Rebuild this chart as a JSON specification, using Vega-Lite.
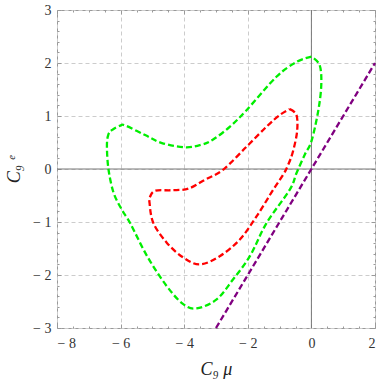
{
  "$schema": "https://vega.github.io/schema/vega-lite/v6.json",
  "width": 318,
  "height": 318,
  "autosize": "none",
  "padding": {"left": 57, "top": 10, "right": 7, "bottom": 57},
  "background": "white",
  "config": {
    "view": {"stroke": "#999", "strokeWidth": 1},
    "axis": {
      "domain": false,
      "labelFont": "Liberation Serif",
      "labelFontSize": 14,
      "labelColor": "#333",
      "tickColor": "#999",
      "titleFont": "Liberation Serif",
      "titleFontStyle": "italic",
      "titleFontWeight": "normal",
      "titleFontSize": 18,
      "titleColor": "#222"
    }
  },
  "datasets": {
    "green": [
      {"i": 0, "x": 0, "y": 2.12}, {"i": 1, "x": -0.47, "y": 2.02}, {"i": 2, "x": -1.1, "y": 1.74},
      {"i": 3, "x": -2.04, "y": 1.11}, {"i": 4, "x": -2.56, "y": 0.8}, {"i": 5, "x": -3.08, "y": 0.56},
      {"i": 6, "x": -3.45, "y": 0.46}, {"i": 7, "x": -3.97, "y": 0.41}, {"i": 8, "x": -4.7, "y": 0.49},
      {"i": 9, "x": -5.23, "y": 0.64}, {"i": 10, "x": -5.85, "y": 0.82}, {"i": 11, "x": -6.01, "y": 0.82},
      {"i": 12, "x": -6.26, "y": 0.74}, {"i": 13, "x": -6.39, "y": 0.64}, {"i": 14, "x": -6.43, "y": 0.42},
      {"i": 15, "x": -6.38, "y": -0.01}, {"i": 16, "x": -6.22, "y": -0.45}, {"i": 17, "x": -5.96, "y": -0.77},
      {"i": 18, "x": -5.7, "y": -1.02}, {"i": 19, "x": -5.17, "y": -1.64}, {"i": 20, "x": -4.55, "y": -2.21},
      {"i": 21, "x": -4.03, "y": -2.55}, {"i": 22, "x": -3.61, "y": -2.63}, {"i": 23, "x": -2.98, "y": -2.46},
      {"i": 24, "x": -2.46, "y": -2.08}, {"i": 25, "x": -1.93, "y": -1.64}, {"i": 26, "x": -1.41, "y": -1.02},
      {"i": 27, "x": -0.68, "y": -0.39}, {"i": 28, "x": -0.47, "y": -0.08}, {"i": 29, "x": -0.21, "y": 0.27},
      {"i": 30, "x": 0, "y": 0.52}, {"i": 31, "x": 0.21, "y": 1.08}, {"i": 32, "x": 0.31, "y": 1.58},
      {"i": 33, "x": 0.26, "y": 1.96}, {"i": 34, "x": 0, "y": 2.12}
    ],
    "red": [
      {"i": 0, "x": -0.68, "y": 1.13}, {"i": 1, "x": -0.47, "y": 1.02}, {"i": 2, "x": -0.45, "y": 0.71},
      {"i": 3, "x": -0.58, "y": 0.33}, {"i": 4, "x": -0.73, "y": 0.08}, {"i": 5, "x": -0.89, "y": -0.11},
      {"i": 6, "x": -1.2, "y": -0.39}, {"i": 7, "x": -1.72, "y": -0.89}, {"i": 8, "x": -2.25, "y": -1.33},
      {"i": 9, "x": -2.87, "y": -1.64}, {"i": 10, "x": -3.5, "y": -1.8}, {"i": 11, "x": -4.03, "y": -1.67},
      {"i": 12, "x": -4.55, "y": -1.39}, {"i": 13, "x": -4.97, "y": -1.02}, {"i": 14, "x": -5.09, "y": -0.64},
      {"i": 15, "x": -5.07, "y": -0.52}, {"i": 16, "x": -4.91, "y": -0.41}, {"i": 17, "x": -4.39, "y": -0.4},
      {"i": 18, "x": -3.87, "y": -0.37}, {"i": 19, "x": -3.34, "y": -0.2}, {"i": 20, "x": -2.77, "y": -0.01},
      {"i": 21, "x": -2.04, "y": 0.42}, {"i": 22, "x": -1.41, "y": 0.8}, {"i": 23, "x": -0.99, "y": 1.02},
      {"i": 24, "x": -0.68, "y": 1.13}
    ],
    "purple": [
      {"i": 0, "x": -3, "y": -3}, {"i": 1, "x": 2, "y": 2}
    ],
    "zero": [
      {"g": "v", "x": 0, "y": -3}, {"g": "v", "x": 0, "y": 3},
      {"g": "h", "x": -8, "y": 0}, {"g": "h", "x": 2, "y": 0}
    ]
  },
  "resolve": {"axis": {"x": "independent", "y": "independent"}},
  "layer": [
    {
      "data": {"name": "zero"},
      "mark": {"type": "line", "color": "#777", "strokeWidth": 1},
      "encoding": {
        "detail": {"field": "g"},
        "x": {"field": "x", "type": "quantitative", "scale": {"domain": [-8, 2], "nice": false, "zero": false},
          "axis": {"orient": "bottom", "values": [-8, -6, -4, -2, 0, 2], "tickSize": -4, "labelPadding": 12,
            "grid": true, "gridColor": "#ccc", "gridDash": [4, 3], "gridWidth": 1,
            "labelExpr": "datum.value < 0 ? '\u2212 ' + format(-datum.value, 'd') : format(datum.value, 'd')",
            "title": "C\u2089\u00a0\u03bc", "titlePadding": 10}},
        "y": {"field": "y", "type": "quantitative", "scale": {"domain": [-3, 3], "nice": false, "zero": false},
          "axis": {"orient": "left", "values": [-3, -2, -1, 0, 1, 2, 3], "tickSize": -4, "labelPadding": 10,
            "grid": true, "gridColor": "#ccc", "gridDash": [4, 3], "gridWidth": 1,
            "labelExpr": "datum.value < 0 ? '\u2212 ' + format(-datum.value, 'd') : format(datum.value, 'd')",
            "title": "C\u2089\u00a0\u1d49", "titlePadding": 9}}
      }
    },
    {
      "data": {"name": "green"},
      "mark": {"type": "line", "color": "#00ee00", "strokeWidth": 2.3, "strokeDash": [6, 3], "interpolate": "cardinal"},
      "encoding": {
        "order": {"field": "i"},
        "x": {"field": "x", "type": "quantitative",
          "axis": {"orient": "bottom", "values": [-7.5, -7, -6.5, -5.5, -5, -4.5, -3.5, -3, -2.5, -1.5, -1, -0.5, 0.5, 1, 1.5],
            "tickSize": -2, "labels": false, "grid": false, "title": null}},
        "y": {"field": "y", "type": "quantitative",
          "axis": {"orient": "left", "values": [-2.8, -2.6, -2.4, -2.2, -1.8, -1.6, -1.4, -1.2, -0.8, -0.6, -0.4, -0.2, 0.2, 0.4, 0.6, 0.8, 1.2, 1.4, 1.6, 1.8, 2.2, 2.4, 2.6, 2.8],
            "tickSize": -2, "labels": false, "grid": false, "title": null}}
      }
    },
    {
      "data": {"name": "red"},
      "mark": {"type": "line", "color": "#ff0000", "strokeWidth": 2.3, "strokeDash": [6, 3], "interpolate": "cardinal"},
      "encoding": {
        "order": {"field": "i"},
        "x": {"field": "x", "type": "quantitative",
          "axis": {"orient": "top", "values": [-8, -6, -4, -2, 0, 2], "tickSize": -4, "labels": false, "grid": false, "title": null}},
        "y": {"field": "y", "type": "quantitative",
          "axis": {"orient": "right", "values": [-3, -2, -1, 0, 1, 2, 3], "tickSize": -4, "labels": false, "grid": false, "title": null}}
      }
    },
    {
      "data": {"name": "purple"},
      "mark": {"type": "line", "color": "#800080", "strokeWidth": 2.3, "strokeDash": [6, 3]},
      "encoding": {
        "order": {"field": "i"},
        "x": {"field": "x", "type": "quantitative",
          "axis": {"orient": "top", "values": [-7.5, -7, -6.5, -5.5, -5, -4.5, -3.5, -3, -2.5, -1.5, -1, -0.5, 0.5, 1, 1.5],
            "tickSize": -2, "labels": false, "grid": false, "title": null}},
        "y": {"field": "y", "type": "quantitative",
          "axis": {"orient": "right", "values": [-2.8, -2.6, -2.4, -2.2, -1.8, -1.6, -1.4, -1.2, -0.8, -0.6, -0.4, -0.2, 0.2, 0.4, 0.6, 0.8, 1.2, 1.4, 1.6, 1.8, 2.2, 2.4, 2.6, 2.8],
            "tickSize": -2, "labels": false, "grid": false, "title": null}}
      }
    }
  ]
}
